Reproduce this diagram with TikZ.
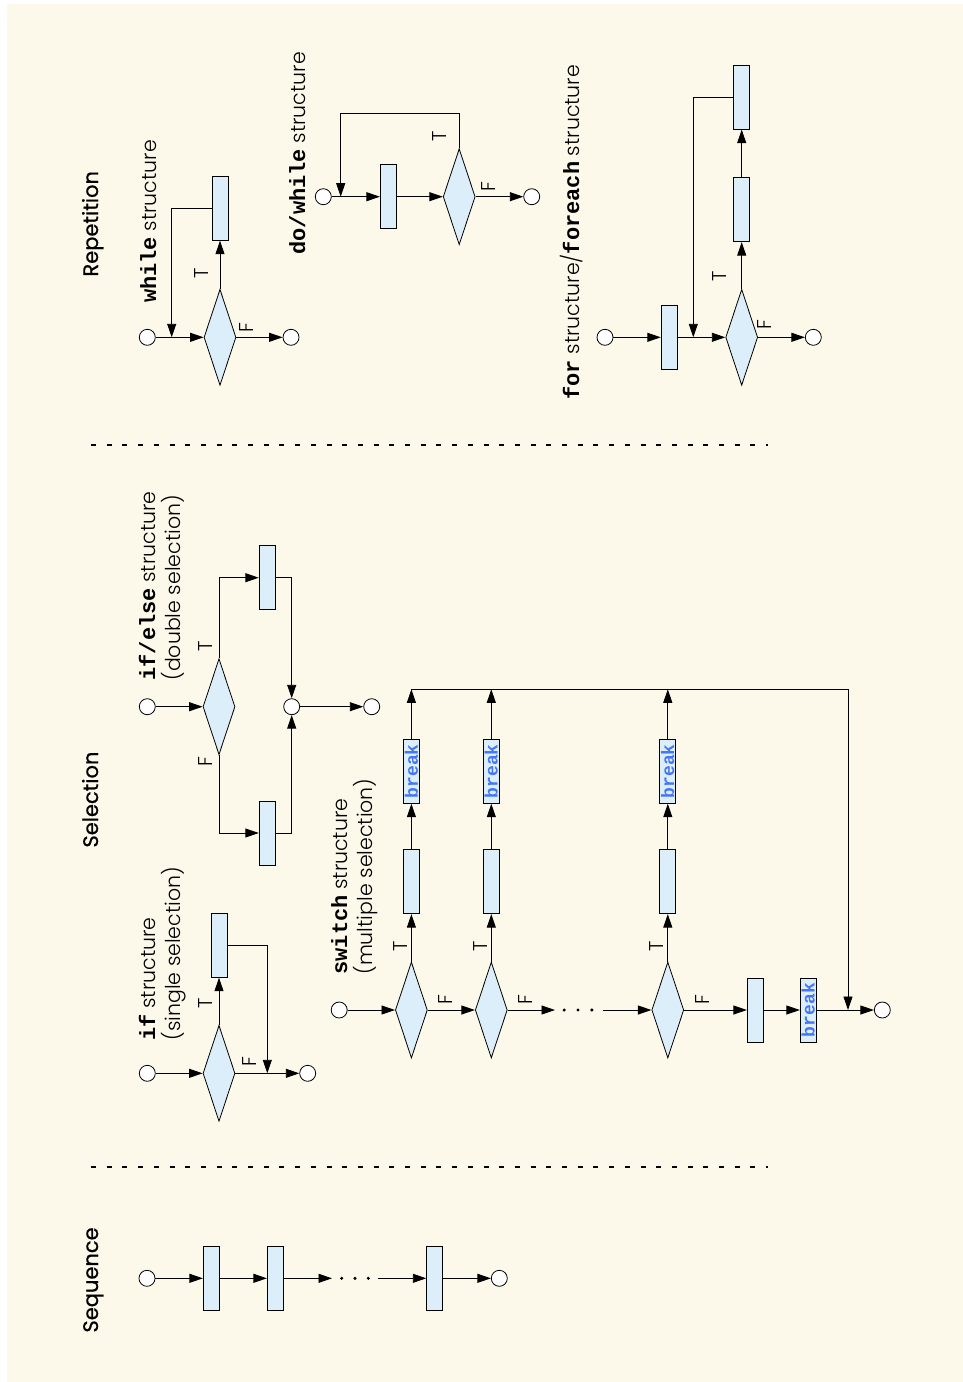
\documentclass[tikz,border=0pt]{standalone}
\usepackage{fontspec}
\setmainfont{Poppins}
\setmonofont{Liberation Mono}
\newfontfamily\lightfont{Poppins}[UprightFont=* Light]
\usetikzlibrary{arrows.meta,shapes.geometric}
\definecolor{bgcream}{RGB}{253,249,234}
\definecolor{boxblue}{RGB}{220,238,250}
\definecolor{brkblue}{RGB}{70,118,245}
\newcommand\kw[1]{{\fontsize{22}{22}\selectfont\ttfamily\bfseries #1}}
\begin{document}
\begin{tikzpicture}[x=1pt,y=-1pt, line width=0.9pt,
  >={Triangle[length=13.5pt,width=9pt]},
  proc/.style={rectangle, draw, fill=boxblue, minimum width=16pt, minimum height=64pt, inner sep=0pt, line width=0.8pt},
  dec/.style={diamond, draw, fill=boxblue, minimum width=32pt, minimum height=96pt, inner sep=0pt, line width=0.8pt},
  term/.style={circle, draw, fill=white, minimum size=16pt, inner sep=0pt, line width=0.8pt},
  brk/.style={proc, font=\fontsize{18}{18}\selectfont\ttfamily\bfseries, text=brkblue},
  head/.style={rotate=90, anchor=base west, inner sep=0pt, font=\fontsize{21}{21}\selectfont\addfontfeatures{FakeBold=0.6}},
  desc/.style={rotate=90, anchor=base west, inner sep=0pt, font=\fontsize{20.5}{20.5}\selectfont\lightfont},
  tf/.style={rotate=90, inner sep=0pt, font=\fontsize{20}{20}\selectfont\lightfont},
  sepline/.style={line width=1.2pt, dash pattern=on 5pt off 10.7pt},
  dot/.style={circle, fill, inner sep=0pt, minimum size=3.4pt}]

\useasboundingbox (0,0) rectangle (963,1382);
\fill[white] (0,0) rectangle (963,1382);
\fill[bgcream] (7,4) rectangle (963,1382);

% separators
\draw[sepline] (91,445) -- (768,445);
\draw[sepline] (91,1167) -- (768,1167);

% headings
\node[head] (hseq) at (98,1333) {Sequence};
\node[head] (hsel) at (98,848) {Selection};
\node[head] (hrep) at (98,277) {Repetition};

% ---------------- Sequence
\node[term] (s0) at (147,1278.3) {};
\node[proc] (sr1) at (211.3,1278.3) {};
\node[proc] (sr2) at (275.3,1278.3) {};
\coordinate (sga) at (332,1278.3);
\node[dot] (sd1) at (341.7,1278.3) {};
\node[dot] (sd2) at (355,1278.3) {};
\node[dot] (sd3) at (368.3,1278.3) {};
\coordinate (sgb) at (378,1278.3);
\node[proc] (sr3) at (434.7,1278.3) {};
\node[term] (s1) at (499.3,1278.3) {};
\draw[->] (s0) -- (sr1);
\draw[->] (sr1) -- (sr2);
\draw[->] (sr2) -- (sga);
\draw[->] (sgb) -- (sr3);
\draw[->] (sr3) -- (s1);

% ---------------- if
\node[desc] (tif1) at (155,1041) {\kw{if} structure};
\node[desc] (tif2) at (180.5,1041) {(single selection)};
\node[term] (i0) at (147.3,1073.3) {};
\node[dec] (id) at (219,1073.3) {};
\node[proc] (ir) at (219,945.3) {};
\coordinate (ij) at (267.3,1073.3);
\node[term] (i1) at (307.7,1073.3) {};
\node[tf] (ilt) at (206,1003.3) {T};
\node[tf] (ilf) at (250,1061.7) {F};
\draw[->] (i0) -- (id);
\draw[->] (id) -- (ir);
\draw[->] (ir.east) -| (ij);
\draw[->] (id) -- (i1);

% ---------------- if/else
\node[desc] (tie1) at (155,681) {\kw{if/else} structure};
\node[desc] (tie2) at (180.5,681) {(double selection)};
\node[term] (e0) at (147.3,706.7) {};
\node[dec] (ed) at (219,706.7) {};
\node[proc] (et) at (267.2,577.7) {};
\node[proc] (eb) at (267.2,833) {};
\node[term] (em) at (291.7,706.7) {};
\node[term] (e1) at (371.7,706.7) {};
\node[tf] (elt) at (206,646.7) {T};
\node[tf] (elf) at (206,761.7) {F};
\draw[->] (e0) -- (ed);
\draw[->] (ed.north) |- (et.west);
\draw[->] (ed.south) |- (eb.west);
\draw[->] (et.east) -| (em.north);
\draw[->] (eb.east) -| (em.south);
\draw[->] (em) -- (e1);

% ---------------- switch
\node[desc] (tsw1) at (347,975) {\kw{switch} structure};
\node[desc] (tsw2) at (372,975) {(multiple selection)};
\node[term] (w0) at (339.2,1010) {};
\node[dec] (d1) at (411.4,1010) {};
\node[dec] (d2) at (491.3,1010) {};
\node[dec] (d3) at (667.8,1010) {};
\node[proc] (c1) at (411.4,881.7) {};
\node[proc] (c2) at (491.3,881.7) {};
\node[proc] (c3) at (667.8,881.7) {};
\node[brk] (b1) at (411.4,771.3) {\rotatebox{90}{break}};
\node[brk] (b2) at (491.3,771.3) {\rotatebox{90}{break}};
\node[brk] (b3) at (667.8,771.3) {\rotatebox{90}{break}};
\coordinate (t1) at (411.4,689.3);
\coordinate (t2) at (491.3,689.3);
\coordinate (t3) at (667.8,689.3);
\coordinate (tR) at (848,689.3);
\coordinate (jn) at (848,1010);
\coordinate (wga) at (555,1010);
\node[dot] (wd1) at (564.2,1010) {};
\node[dot] (wd2) at (578,1010) {};
\node[dot] (wd3) at (591.9,1010) {};
\coordinate (wgb) at (603,1010);
\node[proc] (dr) at (755.3,1010) {};
\node[brk] (db) at (808.3,1010) {\rotatebox{90}{break}};
\node[term] (w1) at (882.3,1010) {};
\node[tf] (wt1) at (400.5,946.7) {T};
\node[tf] (wt2) at (480.4,946.7) {T};
\node[tf] (wt3) at (656.9,946.7) {T};
\node[tf] (wf1) at (445.9,1000) {F};
\node[tf] (wf2) at (525.8,1000) {F};
\node[tf] (wf3) at (702.3,1000) {F};
\draw[->] (w0) -- (d1);
\draw[->] (d1) -- (d2);
\draw[->] (d2) -- (wga);
\draw[->] (wgb) -- (d3);
\draw[->] (d3) -- (dr);
\draw[->] (dr) -- (db);
\draw[->] (db) -- (w1);
\draw[->] (d1) -- (c1);
\draw[->] (d2) -- (c2);
\draw[->] (d3) -- (c3);
\draw[->] (c1) -- (b1);
\draw[->] (c2) -- (b2);
\draw[->] (c3) -- (b3);
\draw[->] (b1) -- (t1);
\draw[->] (b2) -- (t2);
\draw[->] (b3) -- (t3);
\draw[->] (t1) -- (tR) -- (jn);

% ---------------- while
\node[desc] (twh) at (156,303.3) {\kw{while} structure};
\node[term] (h0) at (147.3,337.3) {};
\node[dec] (hd) at (220,337.3) {};
\node[proc] (hr) at (220,208.3) {};
\coordinate (hj) at (171.7,337.3);
\node[term] (h1) at (291,337.3) {};
\node[tf] (hlt) at (201.7,273.3) {T};
\node[tf] (hlf) at (246.7,327.7) {F};
\draw[->] (h0) -- (hd);
\draw[->] (hd) -- (hr);
\draw[->] (hr.west) -| (hj);
\draw[->] (hd) -- (h1);

% ---------------- do/while
\node[desc] (tdo) at (305,255) {\kw{do/while} structure};
\node[term] (o0) at (323.3,196.7) {};
\node[proc] (orr) at (388.3,196.7) {};
\node[dec] (od) at (459.2,196.7) {};
\node[term] (o1) at (531.7,196.7) {};
\coordinate (otop) at (340.7,113.3);
\coordinate (oj) at (340.7,196.7);
\node[tf] (olt) at (440,136.7) {T};
\node[tf] (olf) at (488.3,186.7) {F};
\draw[->] (o0) -- (orr);
\draw[->] (orr) -- (od);
\draw[->] (od) -- (o1);
\draw[->] (od.north) |- (otop) -- (oj);

% ---------------- for / foreach
\node[desc] (tfor) at (579,400) {\kw{for} structure/\kw{foreach} structure};
\node[term] (f0) at (605,337.3) {};
\node[proc] (fi) at (669.2,337.3) {};
\node[dec] (fd) at (741.7,337.3) {};
\node[proc] (fb) at (741.7,209.7) {};
\node[proc] (fu) at (741.7,97.2) {};
\node[term] (f1) at (813.3,337.3) {};
\coordinate (fj) at (693.3,337.3);
\node[tf] (flt) at (720,276.7) {T};
\node[tf] (flf) at (765,325) {F};
\draw[->] (f0) -- (fi);
\draw[->] (fi) -- (fd);
\draw[->] (fd) -- (fb);
\draw[->] (fb) -- (fu);
\draw[->] (fu.west) -| (fj);
\draw[->] (fd) -- (f1);
\end{tikzpicture}
\end{document}
